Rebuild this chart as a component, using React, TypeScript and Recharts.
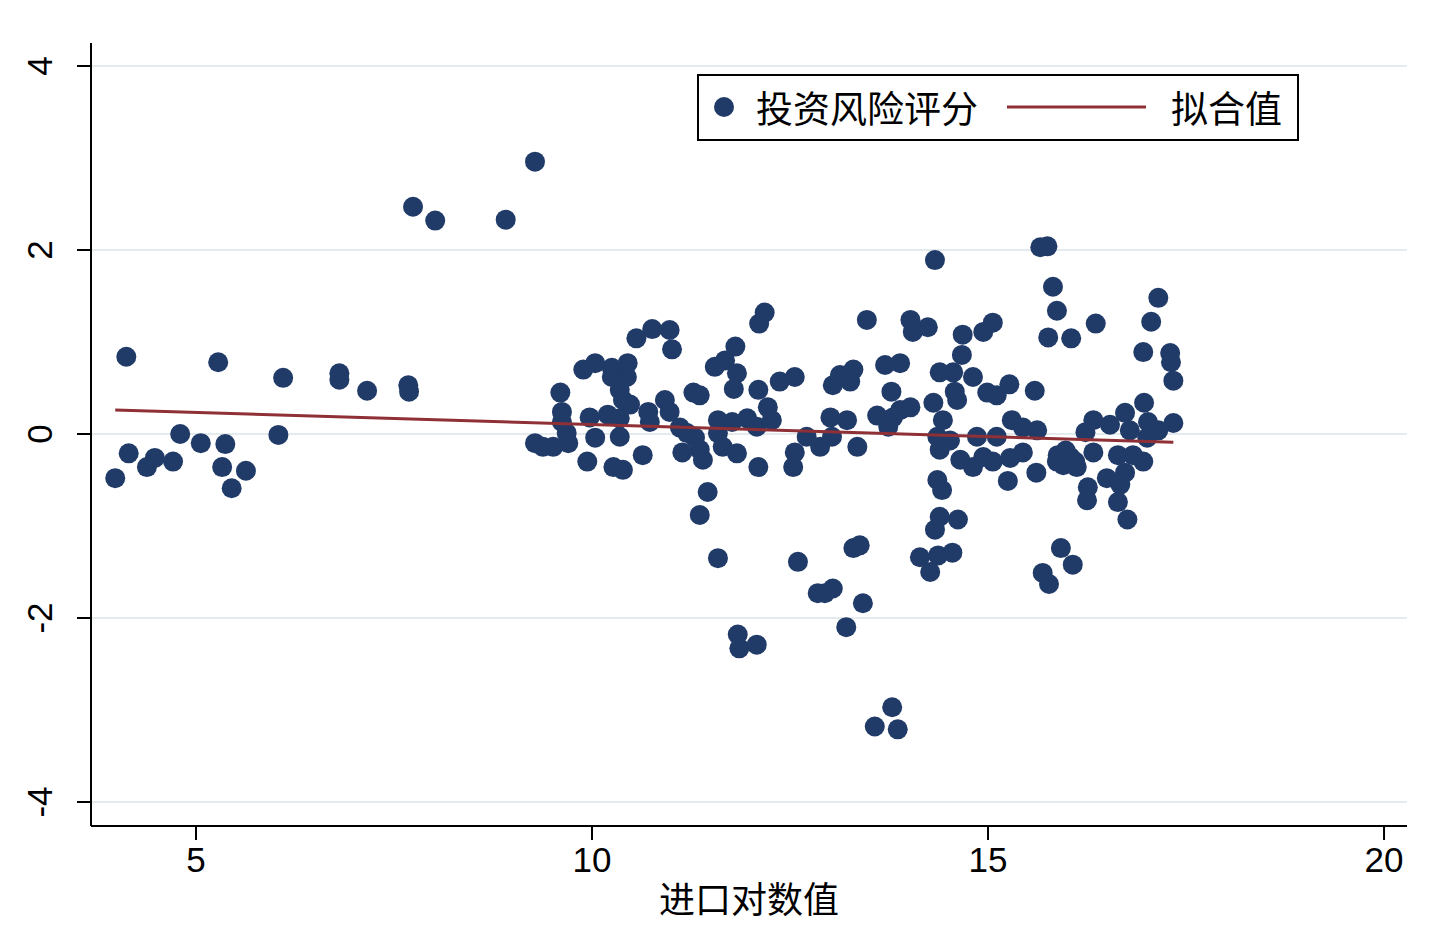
import React from 'react';
import { ScatterChart, Scatter, XAxis, YAxis, CartesianGrid, Legend } from 'recharts';

// 进口对数值 (x) and 投资风险评分 (y)
const importLog = [
  3.98, 4.12, 4.15, 4.38, 4.48, 4.71, 4.80, 5.06, 5.28, 5.33, 5.37, 5.45, 5.63, 6.04, 6.10, 6.81, 6.81, 7.16, 7.68, 7.69, 7.74, 8.02, 8.91, 9.28,
  9.28, 9.38, 9.51, 9.60, 9.62, 9.62, 9.68, 9.70, 9.89, 10.04, 9.94, 9.97, 10.04, 10.20, 10.25, 10.45, 10.25, 10.44, 10.35, 10.39, 10.48, 10.35, 10.35, 10.27, 10.39, 10.56, 10.64, 10.71, 10.73, 10.76, 10.92, 10.98, 10.98, 11.01,
  11.11, 11.20, 11.30, 11.36, 11.14, 11.40, 11.28, 11.36, 11.46, 11.36,
  11.55, 11.68, 11.83, 11.79, 11.81, 11.59, 11.77, 11.96, 12.08, 11.59,
  11.65, 11.83, 12.10, 12.10, 12.11, 12.18, 12.22, 12.27, 11.59, 11.84,
  11.86, 12.08, 12.37, 12.56, 12.56, 12.54, 12.60, 12.71, 12.88, 13.03,
  12.85, 12.94, 13.04, 13.04, 13.13, 13.30, 13.26, 13.01, 13.22, 13.21,
  13.30, 13.38, 13.35, 13.42, 13.47, 13.57, 13.60, 13.70, 13.74, 13.78,
  13.79, 13.80, 13.86, 13.89, 13.89, 14.02, 14.02, 14.05, 14.24, 14.14,
  14.27,
  14.33, 14.31, 14.43, 14.36, 14.52, 14.39, 14.36, 14.42, 14.39, 14.33,
  14.62, 14.37, 14.55, 14.39, 14.56, 14.67, 14.68, 14.58, 14.61, 14.81,
  14.65, 14.81, 14.94, 15.06, 14.86, 14.94, 15.06, 14.99, 15.11, 15.11,
  15.27, 15.30, 15.44, 15.62, 15.28, 15.44, 15.25, 15.59, 15.61, 15.66,
  15.75, 15.82, 15.87, 15.76, 16.05, 15.69, 15.77, 15.92, 16.07,
  15.88, 15.87, 16.04, 16.12, 15.95, 16.33, 16.23, 16.33, 16.36, 16.54,
  16.73, 16.97, 17.02, 17.15, 17.34, 17.01, 16.79, 16.64, 16.83, 16.96,
  16.50, 16.73, 16.67, 16.26, 16.25, 16.64, 16.76, 16.96, 17.06, 17.15,
  17.30, 17.31, 17.34,
  16.00, 16.10, 15.98,
];

const riskScore = [
  -0.48, 0.84, -0.21, -0.36, -0.26, -0.30, 0.00, -0.10, 0.78, -0.36, -0.11, -0.59, -0.40, -0.01, 0.61, 0.66, 0.59, 0.47, 0.53, 0.46, 2.47, 2.32, 2.33, 2.96,
  -0.10, -0.14, -0.14, 0.45, 0.24, 0.13, 0.01, -0.10, 0.70, 0.77, -0.30, 0.18, -0.04, 0.21, 0.72, 0.77, 0.62, 0.62, 0.48, 0.37, 0.32, 0.17, -0.03, -0.36, -0.39, 1.04, -0.23, 0.24, 0.13, 1.14, 0.37, 0.24, 1.13, 0.92,
  0.07, 0.01, -0.04, -0.17, -0.20, -0.28, 0.45, 0.42, -0.63, -0.88,
  0.73, 0.80, 0.66, 0.49, 0.95, 0.15, 0.13, 0.17, 0.08, 0.01,
  -0.14, -0.21, 0.48, -0.36, 1.20, 1.32, 0.29, 0.15, -1.35, -2.18,
  -2.33, -2.29, 0.57, 0.62, -0.20, -0.36, -1.39, -0.03, -0.14, -0.03,
  -1.73, -1.73, -1.68, 0.53, 0.64, 0.70, 0.57, 0.18, 0.15, -2.10,
  -1.24, -1.21, -0.14, -1.84, 1.24, -3.18, 0.20, 0.75, 0.08, 0.46,
  -2.97, 0.18, -3.21, 0.77, 0.26, 0.29, 1.24, 1.11, 1.16, -1.34,
  -1.50,
  1.89, 0.34, 0.15, -0.03, -0.07, -0.17, -0.50, -0.61, -0.90, -1.04,
  -0.93, -1.32, -1.29, 0.67, 0.67, 0.86, 1.08, 0.46, 0.37, 0.62,
  -0.28, -0.36, -0.25, -0.30, -0.03, 1.11, 1.21, 0.45, 0.42, -0.03,
  0.54, 0.15, 0.07, 0.04, -0.26, -0.20, -0.51, 0.47, -0.42, 2.03,
  2.04, 1.60, 1.34, 1.05, 1.04, -1.51, -1.63, -1.24, -1.42,
  -0.23, -0.30, -0.25, -0.36, -0.34, -0.20, 0.02, 0.15, 1.20, 0.10,
  0.23, 0.34, 0.13, 0.04, 0.12, -0.04, 0.04, -0.23, -0.23, -0.30,
  -0.48, -0.42, -0.55, -0.58, -0.72, -0.74, -0.93, 0.89, 1.22, 1.48,
  0.88, 0.78, 0.58,
  -0.32, -0.30, -0.18,
];

// 拟合值 line end points
const fitX = [3.98, 17.34];
const fitY = [0.26, -0.09];

const xTicks = [5, 10, 15, 20];
const yTicks = [-4, -2, 0, 2, 4];
const xDomain = [3.674, 20.29];
const yDomain = [-4.261, 4.25];

const seriesName = '投资风险评分';
const fitName = '拟合值';
const xTitle = '进口对数值';

const points = importLog.map((x, i) => ({ x, y: riskScore[i] }));
const fitLine = fitX.map((x, i) => ({ x, y: fitY[i] }));

const NAVY = '#213b69';
const MAROON = '#8e3036';
const LATIN = '"Liberation Sans", Arial, "Noto Sans CJK SC", sans-serif';
const CJK = '"Noto Sans CJK SC", "Liberation Sans", sans-serif';

const Dot = (props: any) => (
  <circle cx={props.cx} cy={props.cy} r={10} fill={NAVY} />
);

const NoDot = () => <g />;

const XTick = (props: any) => {
  const { x, y, payload } = props;
  return (
    <text x={x} y={y} dy={25} textAnchor="middle" fontSize={35} fontFamily={LATIN} fill="#000">
      {payload.value}
    </text>
  );
};

const YTick = (props: any) => {
  const { x, y, payload } = props;
  return (
    <text
      x={x}
      y={y}
      transform={`rotate(-90 ${x} ${y})`}
      textAnchor="middle"
      fontSize={35}
      fontFamily={LATIN}
      fill="#000"
    >
      {payload.value}
    </text>
  );
};

const XTitle = (props: any) => {
  const vb = props.viewBox || { x: 91, y: 826, width: 1316, height: 109 };
  return (
    <text
      x={vb.x + vb.width / 2}
      y={vb.y + 71}
      textAnchor="middle"
      dominantBaseline="central"
      fontSize={36}
      fontFamily={CJK}
      fill="#000"
    >
      {xTitle}
    </text>
  );
};

const LegendBox = () => (
  <svg width={602} height={67} style={{ display: 'block' }}>
    <rect x={1} y={1} width={600} height={65} fill="#fff" stroke="#000" strokeWidth={2} />
    <circle cx={27} cy={33} r={10} fill={NAVY} />
    <text x={59} y={33} dominantBaseline="central" fontSize={37} fontFamily={CJK} fill="#000">
      {seriesName}
    </text>
    <line x1={310} x2={449} y1={33} y2={33} stroke={MAROON} strokeWidth={3} />
    <text x={474} y={33} dominantBaseline="central" fontSize={37} fontFamily={CJK} fill="#000">
      {fitName}
    </text>
  </svg>
);

export default function App() {
  return (
    <div style={{ position: 'absolute', left: 0, top: 0, width: 1432, height: 935, background: '#fff' }}>
      <ScatterChart width={1432} height={935} margin={{ top: 43, right: 25, bottom: 0, left: 0 }}>
        <CartesianGrid vertical={false} horizontalValues={yTicks} stroke="#e4ebee" strokeWidth={2} />
        <XAxis
          type="number"
          dataKey="x"
          domain={xDomain}
          ticks={xTicks}
          allowDataOverflow
          height={109}
          tickSize={14}
          tickMargin={7}
          axisLine={{ stroke: '#000', strokeWidth: 2 }}
          tickLine={{ stroke: '#000', strokeWidth: 2 }}
          tick={<XTick />}
          label={<XTitle />}
        />
        <YAxis
          type="number"
          dataKey="y"
          domain={yDomain}
          ticks={yTicks}
          allowDataOverflow
          width={91}
          tickSize={14}
          tickMargin={25}
          axisLine={{ stroke: '#000', strokeWidth: 2 }}
          tickLine={{ stroke: '#000', strokeWidth: 2 }}
          tick={<YTick />}
        />
        <Legend
          layout="horizontal"
          verticalAlign="middle"
          align="center"
          wrapperStyle={{ left: 697, top: 74, width: 602, height: 67 }}
          content={<LegendBox />}
        />
        <Scatter name={seriesName} data={points} shape={<Dot />} isAnimationActive={false} />
        <Scatter
          name={fitName}
          data={fitLine}
          shape={<NoDot />}
          line={{ stroke: MAROON, strokeWidth: 3 }}
          isAnimationActive={false}
        />
      </ScatterChart>
    </div>
  );
}
